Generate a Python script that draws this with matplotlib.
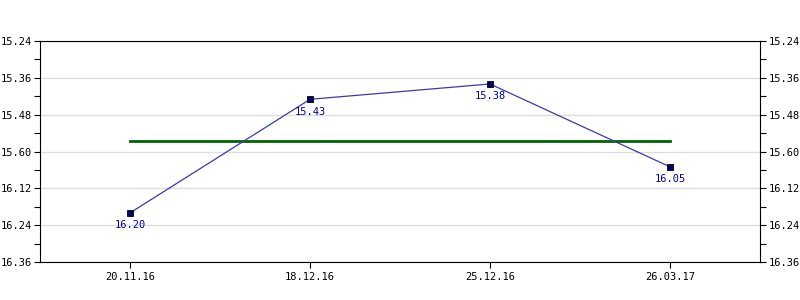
import matplotlib
matplotlib.use('Agg')
import matplotlib.pyplot as plt
from matplotlib.ticker import FixedLocator, FixedFormatter

# Data: times are min.sec strings
dates = ['20.11.16', '18.12.16', '25.12.16', '26.03.17']
times = ['16.20', '15.43', '15.38', '16.05']
tick_values = [924, 936, 948, 960, 972, 984, 996]
tick_labels = ['15.24', '15.36', '15.48', '15.60', '16.12', '16.24', '16.36']


def to_seconds(t):
    m, s = t.split('.')
    return int(m) * 60 + int(s)


secs = [to_seconds(t) for t in times]
avg = sum(secs) / len(secs)
x = list(range(len(dates)))

plt.rcParams['font.family'] = 'DejaVu Sans Mono'

fig = plt.figure(figsize=(8, 3), dpi=100)
ax = fig.add_axes([0.05, 0.1267, 0.9, 0.7366])

ax.plot([x[0], x[-1]], [avg, avg], color='#006400', linewidth=2.0, zorder=2)
ax.plot(x, secs, color='#3a3aaa', linewidth=0.9, zorder=3)
ax.plot(x, secs, linestyle='none', marker='s', markersize=4,
        markerfacecolor='#000066', markeredgecolor='#000000', markeredgewidth=0.6, zorder=4)

for xi, yi, label in zip(x, secs, times):
    ax.annotate(label, (xi, yi), xytext=(0, -9), textcoords='offset points',
                ha='center', va='center', fontsize=7.5, color='#0000aa')

ax.set_xlim(-0.5, len(dates) - 0.5)
ax.set_ylim(tick_values[-1], tick_values[0])

ax.set_xticks(x)
ax.set_xticklabels(dates)
ax.yaxis.set_major_locator(FixedLocator(tick_values))
ax.yaxis.set_major_formatter(FixedFormatter(tick_labels))
ax.yaxis.set_minor_locator(FixedLocator([v + 6 for v in tick_values[:-1]]))

ax.grid(axis='y', which='major', color='#dddddd', linewidth=1.0)
ax.set_axisbelow(True)

ax.tick_params(axis='both', which='both', direction='out', length=4, width=0.8,
               labelsize=7.5, colors='black')
ax.tick_params(axis='y', which='both', left=True, right=True, labelleft=True, labelright=True, pad=2)
ax.tick_params(axis='x', pad=3)

for sp in ax.spines.values():
    sp.set_linewidth(0.8)
    sp.set_color('black')

fig.savefig('out.png', dpi=100)
